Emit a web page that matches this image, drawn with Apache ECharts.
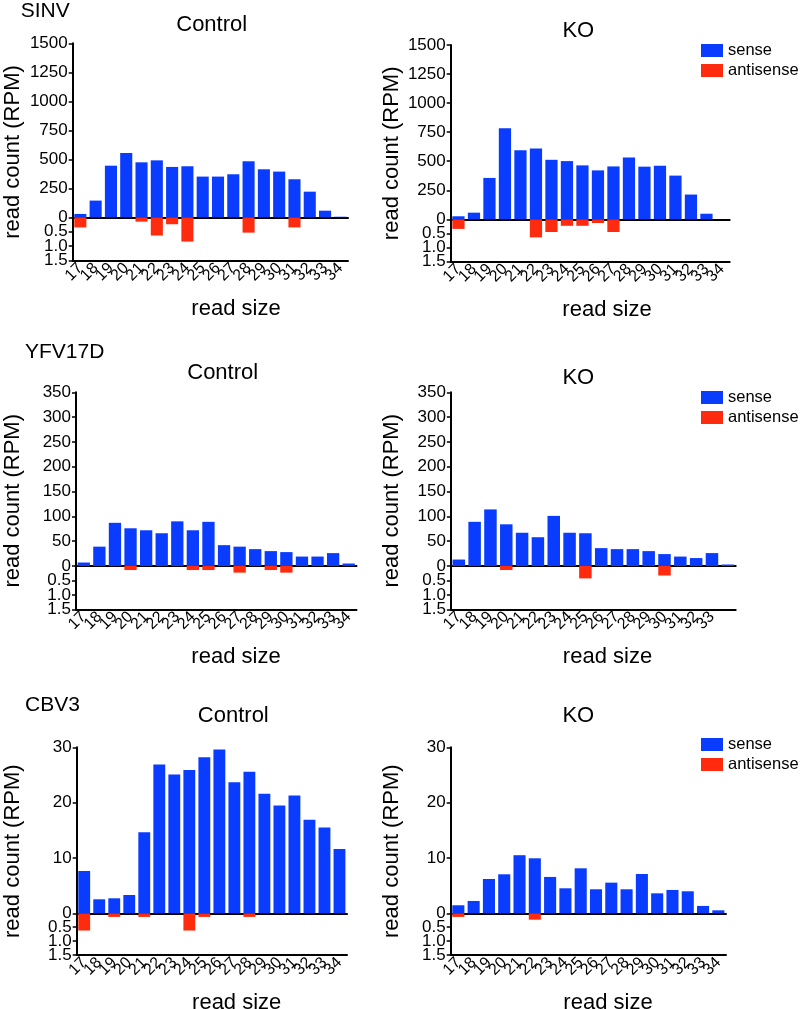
<!DOCTYPE html>
<html><head><meta charset="utf-8">
<script src="https://cdn.jsdelivr.net/npm/echarts@6.0.0/dist/echarts.min.js"></script>
<style>html,body{margin:0;padding:0;background:#fff}#main{width:800px;height:1009px}</style>
</head><body><div id="main"></div>
<script>
// ---- data ----
const categories = ['17','18','19','20','21','22','23','24','25','26','27','28','29','30','31','32','33','34'];
const seriesNames = ['sense','antisense'];
const sinvCtrlSense = [29,144,445,555,474,491,434,440,351,351,371,483,414,394,328,221,57,5];
const sinvCtrlAnti  = [0.35,0,0,0,0.15,0.63,0.24,0.84,0,0,0,0.53,0,0,0.35,0,0,0];
const sinvKoSense   = [26,57,356,783,595,609,512,501,464,421,455,532,453,461,376,213,48,0];
const sinvKoAnti    = [0.34,0,0,0,0,0.64,0.45,0.23,0.23,0.13,0.45,0,0,0,0,0,0,0];
const yfvCtrlSense  = [7,39,87,76,72,66,90,72,89,42,39,34,30,28,19,19,26,5];
const yfvCtrlAnti   = [0,0,0,0.14,0,0,0,0.14,0.14,0,0.23,0,0.14,0.23,0,0,0,0];
const yfvKoSense    = [13,89,114,84,67,58,101,67,66,36,34,34,30,24,19,16,26,3];
const yfvKoAnti     = [0,0,0,0.14,0,0,0,0,0.43,0,0,0,0,0.33,0,0,0,0];
const cbvCtrlSense  = [7.65,2.53,2.71,3.31,14.64,26.9,25.1,25.9,28.2,29.6,23.7,25.6,21.6,19.5,21.3,16.9,15.5,11.6];
const cbvCtrlAnti   = [0.62,0,0.13,0,0.13,0,0,0.62,0.13,0,0,0.13,0,0,0,0,0,0];
const cbvKoSense    = [1.45,2.23,6.2,7.05,10.5,9.94,6.57,4.52,8.13,4.34,5.54,4.34,7.1,3.61,4.22,3.98,1.33,0.54];
const cbvKoAnti     = [0.13,0,0,0,0,0.23,0,0,0,0,0,0,0,0,0,0,0,0];
const virusLabels = ['SINV','YFV17D','CBV3'];
const panelTitles = ['Control','KO'];
const upperMax = [1500, 350, 30];
const upperInterval = [250, 50, 10];
const lowerMax = 1.5, lowerInterval = 0.5;
const lowerTickLabels = ['0.5','1.0','1.5'];
const yName = 'read count (RPM)';
const xName = 'read size';

// ---- layout ----
const BLUE = '#0a3cff', RED = '#ff2b0f';
const FONT = '"Liberation Sans", Arial, sans-serif';
const layouts = [
  {sense:sinvCtrlSense, anti:sinvCtrlAnti, row:0, col:0, left:72.7, right:348,   top:43.3,  zero:217.3, bottom:260.7, titleX:211.7, titleY:25,    xNameX:236, yNameX:13},
  {sense:sinvKoSense,   anti:sinvKoAnti,   row:0, col:1, left:450.7,right:729.7, top:45,    zero:219.3, bottom:261.7, titleX:578.3, titleY:30.7,  xNameX:607, yNameX:392, legendTop:42},
  {sense:yfvCtrlSense,  anti:yfvCtrlAnti,  row:1, col:0, left:76,   right:356.5, top:392.3, zero:566,   bottom:609.3, titleX:222.7, titleY:373.3, xNameX:236, yNameX:13},
  {sense:yfvKoSense,    anti:yfvKoAnti,    row:1, col:1, left:450.9,right:735.7, top:392.3, zero:566,   bottom:609.3, titleX:578.3, titleY:378.3, xNameX:607.5, yNameX:392, legendTop:389, hideLast:true},
  {sense:cbvCtrlSense,  anti:cbvCtrlAnti,  row:2, col:0, left:76.7, right:347,   top:747.3, zero:913.3, bottom:955,   titleX:233.3, titleY:716,   xNameX:236.7, yNameX:13},
  {sense:cbvKoSense,    anti:cbvKoAnti,    row:2, col:1, left:450.7,right:726,   top:747.3, zero:913.3, bottom:955,   titleX:578.3, titleY:716,   xNameX:608, yNameX:392, legendTop:736}
];
const rowLabelPos = [{x:20.7,y:11},{x:25,y:352.5},{x:25,y:705}];

const grid=[], xAxis=[], yAxis=[], series=[], graphic=[], legend=[];
const axisLineStyle = {color:'#000', width:2};
const tickStyle = {color:'#000', width:1.5};
const lblBase = {fontSize:17, fontFamily:FONT, color:'#000', margin:5, showMinLabel:true, showMaxLabel:true, hideOverlap:false};
const lowerLabel = v => { const i = Math.round(v / lowerInterval) - 1; return i >= 0 ? lowerTickLabels[i] : ''; };

layouts.forEach((p) => {
  const gu = grid.length;
  grid.push({left:p.left, top:p.top, width:p.right-p.left, height:p.zero-p.top, outerBoundsMode:'none'});
  grid.push({left:p.left, top:p.zero, width:p.right-p.left, height:p.bottom-p.zero, outerBoundsMode:'none'});
  xAxis.push({gridIndex:gu, type:'category', data:categories, axisLine:{lineStyle:axisLineStyle}, axisTick:{show:false}, axisLabel:{show:false}, splitLine:{show:false}});
  xAxis.push({gridIndex:gu+1, type:'category', data:categories,
    axisLine:{onZero:false, lineStyle:axisLineStyle},
    axisTick:{alignWithLabel:true, length:5, lineStyle:tickStyle},
    axisLabel:{rotate:45, interval:0, fontSize:16, fontFamily:FONT, color:'#000', margin:5, hideOverlap:false,
      formatter:(v, idx) => (p.hideLast && idx === categories.length-1) ? '' : v},
    splitLine:{show:false}});
  const yu = yAxis.length;
  yAxis.push({gridIndex:gu, type:'value', position:'left', min:0, max:upperMax[p.row], interval:upperInterval[p.row],
    axisLine:{show:true, lineStyle:axisLineStyle}, axisTick:{show:true, length:4, lineStyle:tickStyle},
    axisLabel:Object.assign({}, lblBase, {formatter:v => String(v)}), splitLine:{show:false}});
  // lower axis: labels at odd steps (0.5, 1.5)
  yAxis.push({gridIndex:gu+1, type:'value', position:'left', offset:0, inverse:true, min:0, max:lowerMax, interval:lowerInterval,
    axisLine:{show:true, lineStyle:axisLineStyle}, axisTick:{show:true, length:4, lineStyle:tickStyle},
    axisLabel:Object.assign({}, lblBase, {formatter:v => (Math.round(v/lowerInterval) % 2 === 1) ? lowerLabel(v) : ''}),
    splitLine:{show:false}});
  // companion lower axis carrying the even-step label (1.0), avoiding auto-hiding of overlapped labels
  yAxis.push({gridIndex:gu+1, type:'value', position:'left', offset:0, inverse:true, min:0, max:lowerMax, interval:lowerInterval,
    axisLine:{show:false}, axisTick:{show:false},
    axisLabel:Object.assign({}, lblBase, {formatter:v => (Math.round(v/lowerInterval) === 2) ? lowerLabel(v) : ''}),
    splitLine:{show:false}});
  series.push({type:'bar', name:seriesNames[0], xAxisIndex:gu, yAxisIndex:yu, data:p.sense, barCategoryGap:'21%', itemStyle:{color:BLUE}, silent:true});
  series.push({type:'bar', name:seriesNames[1], xAxisIndex:gu+1, yAxisIndex:yu+1, data:p.anti, barCategoryGap:'21%', itemStyle:{color:RED}, silent:true});

  graphic.push({type:'text', x:p.titleX, y:p.titleY, style:{text:panelTitles[p.col], fontSize:22, fontFamily:FONT, fill:'#000', align:'center', verticalAlign:'middle'}});
  graphic.push({type:'text', x:p.xNameX, y:p.bottom+48, style:{text:xName, fontSize:22, fontFamily:FONT, fill:'#000', align:'center', verticalAlign:'middle'}});
  graphic.push({type:'text', x:p.yNameX, y:(p.top+p.bottom)/2, rotation:Math.PI/2, style:{text:yName, fontSize:22, fontFamily:FONT, fill:'#000', align:'center', verticalAlign:'middle'}});
  if (p.legendTop !== undefined) {
    legend.push({orient:'vertical', left:701, top:p.legendTop, padding:0, itemWidth:22, itemHeight:13, itemGap:3, icon:'rect',
      data:seriesNames, selectedMode:false, textStyle:{fontSize:16.5, fontFamily:FONT, color:'#000'}});
  }
});
virusLabels.forEach((t,i) => {
  graphic.push({type:'text', x:rowLabelPos[i].x, y:rowLabelPos[i].y, style:{text:t, fontSize:21, fontFamily:FONT, fill:'#000', align:'left', verticalAlign:'middle'}});
});

const chart = echarts.init(document.getElementById('main'), null, {renderer:'canvas'});
chart.setOption({animation:false, backgroundColor:'#fff', grid, xAxis, yAxis, series, legend, graphic});
</script></body></html>
